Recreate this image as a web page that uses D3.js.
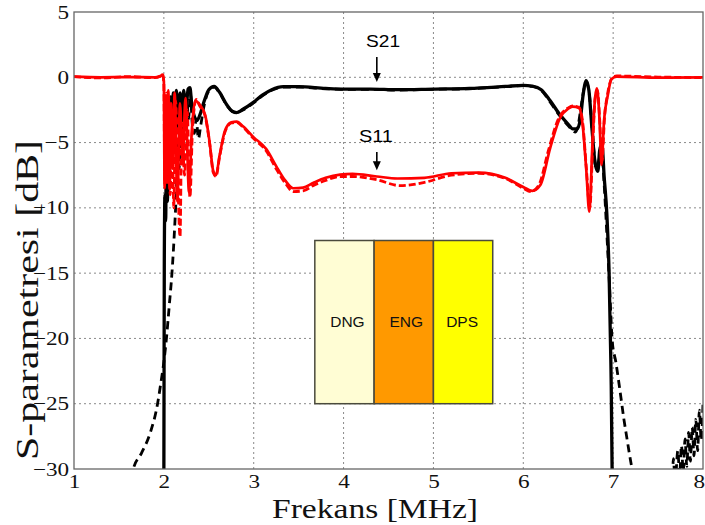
<!DOCTYPE html>
<html>
<head>
<meta charset="utf-8">
<script src="https://cdn.jsdelivr.net/npm/d3@7"></script>
<style>
  body { margin: 0; background: #fff; }
  svg { display: block; }
</style>
</head>
<body>
<svg id="chart" width="705" height="525"></svg>
<script>
// Axis ticks
const xTicks = [1, 2, 3, 4, 5, 6, 7, 8];
const yTicks = [-30, -25, -20, -15, -10, -5, 0, 5];

// S21, measured (solid) and simulated (dashed): [frequency MHz, dB]
const s21Meas = [[1.00,-45],[1.99,-45],[2.00,-30.5],[2.005,-14],[2.012,-9],[2.02,-11],[2.03,-4],[2.04,-9.5],[2.05,-2],[2.06,-8],[2.075,-1.5],[2.09,-6],[2.105,-1.2],[2.12,-4.5],[2.14,-1.0],[2.16,-3.8],[2.18,-1.2],[2.20,-3.2],[2.22,-1.0],[2.245,-2.6],[2.27,-0.9],[2.29,-0.8],[2.31,-2.0],[2.34,-3.0],[2.37,-3.3],[2.40,-2.9],[2.45,-1.8],[2.50,-0.95],[2.56,-0.7],[2.62,-1.15],[2.70,-2.1],[2.76,-2.6],[2.81,-2.7],[2.88,-2.45],[3.00,-1.9],[3.10,-1.35],[3.20,-0.95],[3.33,-0.72],[3.50,-0.72],[3.80,-0.85],[4.00,-0.9],[4.30,-0.9],[4.60,-0.95],[5.00,-0.9],[5.40,-0.85],[5.80,-0.7],[6.00,-0.62],[6.10,-0.68],[6.20,-0.95],[6.30,-1.8],[6.40,-2.8],[6.50,-3.6],[6.55,-3.95],[6.60,-3.95],[6.635,-3.2],[6.665,-1.4],[6.70,-0.25],[6.73,-1.0],[6.765,-4.0],[6.80,-6.6],[6.83,-7.2],[6.85,-5.6],[6.875,-5.1],[6.90,-7.6],[6.93,-10.5],[6.955,-15],[6.975,-22],[6.99,-31],[7.00,-45],[8.00,-45]];

const s21Sim = [[1.00,-45],[1.58,-33],[1.66,-30],[1.75,-28.8],[1.85,-27.2],[1.93,-25],[1.96,-23.7],[2.00,-21.8],[2.03,-19.9],[2.06,-17.5],[2.09,-15],[2.12,-11.5],[2.14,-8.5],[2.155,-5],[2.17,-7],[2.185,-3],[2.20,-5],[2.215,-2.2],[2.235,-4],[2.255,-1.6],[2.275,-3.2],[2.295,-1.2],[2.315,-3.5],[2.34,-4.3],[2.36,-3.2],[2.385,-4.7],[2.41,-3.7],[2.45,-2.1],[2.50,-1.05],[2.56,-0.75],[2.62,-1.2],[2.70,-2.15],[2.76,-2.6],[2.81,-2.7],[2.88,-2.5],[3.00,-1.95],[3.10,-1.4],[3.20,-1.0],[3.33,-0.75],[3.50,-0.75],[3.80,-0.88],[4.00,-0.92],[4.30,-0.92],[4.60,-0.98],[5.00,-0.92],[5.40,-0.88],[5.80,-0.72],[6.00,-0.64],[6.10,-0.7],[6.20,-1.0],[6.30,-1.9],[6.40,-2.9],[6.50,-3.7],[6.55,-4.1],[6.58,-4.2],[6.61,-3.7],[6.64,-2.4],[6.675,-0.9],[6.70,-0.4],[6.735,-1.3],[6.77,-4.3],[6.81,-6.9],[6.84,-6.4],[6.87,-5.5],[6.90,-8.2],[6.93,-12],[6.96,-16],[6.99,-20.2],[7.03,-21.8],[7.06,-23.2],[7.09,-24.7],[7.12,-26.2],[7.15,-27.5],[7.18,-28.8],[7.21,-30],[7.26,-32],[7.64,-32],[7.66,-31],[7.67,-29.2],[7.69,-31],[7.72,-28.6],[7.74,-30.5],[7.76,-28.2],[7.78,-30.2],[7.80,-27.7],[7.82,-29.8],[7.84,-27.2],[7.86,-29.4],[7.88,-26.8],[7.90,-29],[7.92,-26.2],[7.94,-28.6],[7.96,-25.5],[7.98,-27.8],[8.00,-25]];

// S11, measured (solid) and simulated (dashed)
const s11Meas = [[1.00,0.05],[1.30,0.0],[1.60,0.02],[1.90,0.0],[1.96,0.08],[1.985,0.2],[2.00,-0.3],[2.008,-8.5],[2.02,-1.5],[2.035,-7.5],[2.05,-1.0],[2.065,-8.6],[2.08,-2.0],[2.10,-7.0],[2.12,-1.2],[2.15,-9.5],[2.18,-2.0],[2.21,-6.5],[2.24,-1.6],[2.28,-8.8],[2.31,-4.2],[2.35,-1.8],[2.40,-2.1],[2.46,-2.9],[2.51,-5.0],[2.55,-7.2],[2.58,-7.5],[2.62,-6.0],[2.68,-4.1],[2.75,-3.45],[2.81,-3.4],[2.88,-3.75],[3.00,-4.6],[3.14,-5.5],[3.25,-6.8],[3.35,-7.9],[3.44,-8.5],[3.55,-8.45],[3.66,-8.1],[3.80,-7.7],[3.96,-7.45],[4.10,-7.4],[4.37,-7.6],[4.60,-7.75],[4.90,-7.7],[5.20,-7.35],[5.50,-7.3],[5.80,-7.7],[6.00,-8.4],[6.10,-8.7],[6.19,-8.25],[6.30,-5.4],[6.41,-3.1],[6.50,-2.4],[6.55,-2.25],[6.62,-2.35],[6.66,-3.6],[6.70,-7.0],[6.735,-10.3],[6.77,-5.0],[6.80,-1.5],[6.82,-0.85],[6.85,-3.5],[6.87,-6.7],[6.90,-3.2],[6.94,-1.4],[6.98,-0.15],[7.04,0.05],[7.50,-0.03],[8.00,0.0]];

const s11Sim = [[1.00,0.05],[1.30,-0.05],[1.60,0.05],[1.90,-0.03],[1.96,0.1],[1.985,0.25],[2.00,-0.5],[2.01,-8.0],[2.025,-1.2],[2.04,-8.2],[2.055,-1.5],[2.07,-9.0],[2.09,-2.5],[2.11,-10],[2.13,-1.8],[2.18,-12.2],[2.20,-3.5],[2.23,-7.5],[2.26,-2.5],[2.29,-9.2],[2.32,-3.8],[2.36,-1.7],[2.40,-2.2],[2.46,-3.0],[2.51,-5.1],[2.55,-7.3],[2.58,-7.6],[2.62,-6.1],[2.68,-4.2],[2.75,-3.5],[2.81,-3.45],[2.88,-3.8],[3.00,-4.7],[3.14,-5.65],[3.25,-7.0],[3.35,-8.1],[3.44,-8.75],[3.55,-8.7],[3.66,-8.3],[3.80,-7.9],[3.96,-7.6],[4.10,-7.6],[4.37,-7.85],[4.63,-8.3],[4.90,-8.05],[5.20,-7.5],[5.50,-7.35],[5.80,-7.75],[6.00,-8.5],[6.08,-8.75],[6.17,-8.3],[6.28,-5.6],[6.39,-3.2],[6.50,-2.35],[6.55,-2.2],[6.62,-2.3],[6.66,-3.4],[6.70,-6.8],[6.74,-10.0],[6.775,-4.8],[6.80,-1.6],[6.825,-1.0],[6.85,-3.2],[6.875,-6.4],[6.905,-3.0],[6.94,-1.2],[6.985,-0.1],[7.04,0.1],[7.50,0.02],[8.00,-0.03]];

// Layer structure inset: names, fills, frequency-axis edges, dB span
const layerNames = ["DNG", "ENG", "DPS"];
const layerFills = ["#FFFDD4", "#FF9900", "#FFFF00"];
const layerEdges = [3.68, 4.34, 5.0, 5.66];
const layerSpan = [-25, -12.5];

// Curve call-outs: label, frequency, arrow start/end and label baseline in dB
const callouts = [
  { label: "S21", f: 4.37, labelF: 4.44, labelDb: 2.32, from: 1.55, to: -0.36 },
  { label: "S11", f: 4.37, labelF: 4.36, labelDb: -4.95, from: -5.72, to: -7.12 }
];

const W = 705, H = 525;
const margin = { top: 12, right: 2, bottom: 56, left: 74 };
const iw = W - margin.left - margin.right;
const ih = H - margin.top - margin.bottom;

const svg = d3.select("#chart");
const g = svg.append("g").attr("transform", `translate(${margin.left},${margin.top})`);

const x = d3.scaleLinear().domain([1, 8]).range([0, iw]);
const y = d3.scaleLinear().domain([-30, 5]).range([ih, 0]);

// Dotted grid
g.append("g").selectAll("line").data(xTicks.slice(1, -1)).join("line")
  .attr("x1", d => x(d)).attr("x2", d => x(d)).attr("y1", 0).attr("y2", ih)
  .attr("stroke", "#8a8a8a").attr("stroke-width", 1).attr("stroke-dasharray", "2,3");
g.append("g").selectAll("line").data(yTicks.slice(1, -1)).join("line")
  .attr("x1", 0).attr("x2", iw).attr("y1", d => y(d)).attr("y2", d => y(d))
  .attr("stroke", "#8a8a8a").attr("stroke-width", 1).attr("stroke-dasharray", "2,3");

// Layer inset
const inset = g.append("g");
layerNames.forEach((name, i) => {
  inset.append("rect")
    .attr("x", x(layerEdges[i])).attr("y", y(layerSpan[1]))
    .attr("width", x(layerEdges[i + 1]) - x(layerEdges[i]))
    .attr("height", y(layerSpan[0]) - y(layerSpan[1]))
    .attr("fill", layerFills[i]).attr("stroke", "#4a4a3c").attr("stroke-width", 1.5);
  inset.append("text")
    .attr("x", (x(layerEdges[i]) + x(layerEdges[i + 1])) / 2 + [3, 2.5, -1][i])
    .attr("y", y(-19.15))
    .attr("text-anchor", "middle")
    .attr("font-family", "Liberation Sans, Arial, sans-serif")
    .attr("font-size", 15.5)
    .attr("fill", "#111")
    .text(name);
});

// Curves
svg.append("clipPath").attr("id", "plotClip")
  .append("rect").attr("x", 0).attr("y", 0).attr("width", iw).attr("height", ih);
const curves = g.append("g").attr("clip-path", "url(#plotClip)");
const line = d3.line().x(d => x(d[0])).y(d => y(d[1])).curve(d3.curveMonotoneX);

const series = [
  { data: s21Sim, color: "#000", width: 2.8, dash: "8,5" },
  { data: s21Meas, color: "#000", width: 3.3, dash: null },
  { data: s11Sim, color: "#ff0000", width: 2.8, dash: "7,3" },
  { data: s11Meas, color: "#ff0000", width: 2.7, dash: null }
];
series.forEach(s => {
  curves.append("path").datum(s.data)
    .attr("d", line)
    .attr("fill", "none")
    .attr("stroke", s.color)
    .attr("stroke-width", s.width)
    .attr("stroke-linejoin", "round")
    .attr("stroke-dasharray", s.dash);
});

// Axes
const xAxis = g.append("g").attr("transform", `translate(0,${ih})`)
  .call(d3.axisBottom(x).tickValues(xTicks).tickSize(0).tickPadding(5).tickFormat(d3.format("d")));
const yAxis = g.append("g")
  .call(d3.axisLeft(y).tickValues(yTicks).tickSize(0).tickPadding(4).tickFormat(d3.format("d")));
[xAxis, yAxis].forEach(a => {
  a.select(".domain").remove();
  a.selectAll("text")
    .attr("font-family", "Liberation Serif, Times New Roman, serif")
    .attr("font-size", 19)
    .attr("transform", "scale(1.22,1)")
    .attr("fill", "#111");
});
xAxis.selectAll("text").attr("dy", "0.72em");
// keep the last label inside the page
xAxis.selectAll(".tick").filter(d => d === 8).select("text")
  .attr("text-anchor", "end").attr("x", 1.2);

// Frame
g.append("rect").attr("x", 0).attr("y", 0).attr("width", iw).attr("height", ih)
  .attr("fill", "none").attr("stroke", "#666").attr("stroke-width", 1.3);

// Call-outs
callouts.forEach(c => {
  g.append("text")
    .attr("x", x(c.labelF)).attr("y", y(c.labelDb))
    .attr("text-anchor", "middle")
    .attr("font-family", "Liberation Sans, Arial, sans-serif")
    .attr("font-size", 16.5)
    .attr("textLength", 34).attr("lengthAdjust", "spacingAndGlyphs")
    .attr("fill", "#000")
    .text(c.label);
  const ax = x(c.f), y0 = y(c.from), y1 = y(c.to);
  g.append("line").attr("x1", ax).attr("x2", ax).attr("y1", y0).attr("y2", y1 - 8)
    .attr("stroke", "#000").attr("stroke-width", 1.6);
  g.append("path").attr("d", `M${ax - 4},${y1 - 9} L${ax + 4},${y1 - 9} L${ax},${y1} Z`).attr("fill", "#000");
});

// Axis titles
svg.append("text")
  .attr("x", 375).attr("y", 517.5)
  .attr("text-anchor", "middle")
  .attr("font-family", "Liberation Serif, Times New Roman, serif")
  .attr("font-size", 27)
  .attr("textLength", 206).attr("lengthAdjust", "spacingAndGlyphs")
  .attr("fill", "#111")
  .text("Frekans [MHz]");
svg.append("text")
  .attr("transform", "translate(38,300) rotate(-90)")
  .attr("text-anchor", "middle")
  .attr("font-family", "Liberation Serif, Times New Roman, serif")
  .attr("font-size", 31)
  .attr("textLength", 320).attr("lengthAdjust", "spacingAndGlyphs")
  .attr("fill", "#111")
  .text("S-parametresi [dB]");
</script>
</body>
</html>
